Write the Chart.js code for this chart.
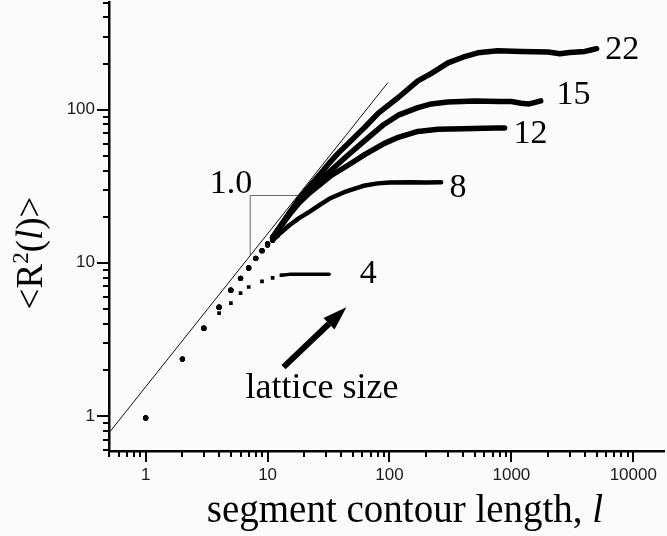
<!DOCTYPE html>
<html><head><meta charset="utf-8">
<script src="https://cdn.jsdelivr.net/npm/chart.js@4.4.0/dist/chart.umd.min.js"></script>
<style>html,body{margin:0;padding:0;background:#fbfbfb;overflow:hidden}</style>
</head><body>
<canvas id="c" width="667" height="536"></canvas>
<script>
// ---- axis ranges and tick labels ----
const xRange = [0.5, 18000];
const yRange = [0.59, 500];
const xTickLabels = ['1', '10', '100', '1000', '10000'];
const yTickLabels = ['1', '10', '100'];

// ---- data: contour length l and <R^2(l)> for each lattice size ----
const l4  = [1,2,3,4,5,6,7,9,11,13,15,18,22,27,32];
const r4  = [0.97,2.35,3.74,4.69,5.45,6.33,6.95,7.57,7.96,8.29,8.4,8.42,8.42,8.42,8.42];

const l8  = [1,2,3,4,5,6,7,8,9,10,11,12,15,18,22,27,33,43,63,80,100,150,200,265];
const r8  = [0.97,2.35,3.74,5.13,6.62,7.92,9.25,10.7,12.0,13.0,14.0,15.0,17.5,19.5,21.5,24,26.5,29,32,33,33.4,33.5,33.4,33.5];

const l12 = [1,2,3,4,5,6,7,8,9,10,11,12,15,18,22,27,33,45,63,90,118,171,250,400,600,750,880];
const r12 = [0.97,2.35,3.74,5.13,6.62,7.92,9.25,10.7,12.0,13.3,14.6,16,20.5,24.5,28.5,32.5,37,43,51,60,66,72,74.5,75,75.5,76,75.8];

const l15 = [1,2,3,4,5,6,7,8,9,10,11,12,15,18,22,27,33,45,63,90,118,171,220,300,500,800,1000,1200,1400,1600,1740];
const r15 = [0.97,2.35,3.74,5.13,6.62,7.92,9.25,10.7,12.0,13.3,14.6,16.2,21,25.5,30,35,40,50,63,80,92,103,109,112,114,113,113,110,109,112,114];

const l22 = [1,2,3,4,5,6,7,8,9,10,11,12,15,18,22,27,33,38,63,81,118,171,219,302,400,531,773,1200,2000,2500,3000,4000,4500,5000];
const r22 = [0.97,2.35,3.74,5.13,6.62,7.92,9.25,10.7,12.0,13.3,14.6,16.2,21,26,31.5,38,46,52,77,95,120,154,172,202,220,235,242,240,238,232,236,240,245,250];

// slope-1 reference line and slope triangle
const refLineL = [0.5, 97];
const refLineR = [0.775, 150];
const triL = [7.2, 7.2, 17.8];
const triR = [11.2, 27.5, 27.5];

// ---- annotation texts (data coordinates) ----
const labelTexts = [
  {text:'22', x:8110, y:215, align:'center', size:34},
  {text:'15', x:3230, y:109, align:'center', size:34},
  {text:'12', x:1438, y:61, align:'center', size:34},
  {text:'8',  x:364,  y:26.7, align:'center', size:34},
  {text:'4',  x:67,   y:7.35, align:'center', size:34},
  {text:'1.0',x:5.0,  y:28.4, align:'center', size:34},
  {text:'lattice size', x:6.6, y:1.31, align:'left', size:36}
];
const arrowFrom = {x:13.5, y:2.08};
const arrowTo   = {x:44.3, y:5.13};

// ---- helpers ----
const pts = (L, R) => L.map((v, i) => ({x: v, y: R[i]}));
function logTicks(min, max) {
  const out = [];
  for (let e = -1; e <= 5; e++) {
    for (let m = 1; m <= 9; m++) {
      const v = +(m * Math.pow(10, e)).toPrecision(6);
      if (v >= min - 1e-9 && v <= max + 1e-9) out.push(v);
    }
  }
  return out;
}
const xMajor = xTickLabels.map(Number);
const yMajor = yTickLabels.map(Number);

function series(L, R, dotMax, lineMin, width, style) {
  return {
    data: pts(L, R),
    showLine: true,
    borderColor: '#000',
    backgroundColor: '#000',
    borderWidth: width,
    pointStyle: style,
    pointRadius: c => (c.raw && c.raw.x <= dotMax) ? 2.6 : 0,
    pointBorderWidth: 0,
    pointHoverRadius: 0,
    segment: { borderColor: c => c.p0.parsed.x >= lineMin ? '#000' : 'rgba(0,0,0,0)' },
    tension: 0,
    borderCapStyle: 'round',
    borderJoinStyle: 'round'
  };
}

const serif = '"Liberation Serif", "Times New Roman", serif';

const decorPlugin = {
  id: 'decor',
  afterDatasetsDraw(chart) {
    const {ctx, scales: {x, y}} = chart;
    ctx.save();
    ctx.fillStyle = '#000';
    ctx.textBaseline = 'alphabetic';
    labelTexts.forEach(t => {
      ctx.textAlign = t.align;
      ctx.font = t.size + 'px ' + serif;
      ctx.fillText(t.text, x.getPixelForValue(t.x), y.getPixelForValue(t.y));
    });
    // arrow
    const x0 = x.getPixelForValue(arrowFrom.x), y0 = y.getPixelForValue(arrowFrom.y);
    const x1 = x.getPixelForValue(arrowTo.x), y1 = y.getPixelForValue(arrowTo.y);
    const ang = Math.atan2(y1 - y0, x1 - x0);
    const headLen = 24, headW = 8;
    const bx = x1 - headLen * Math.cos(ang), by = y1 - headLen * Math.sin(ang);
    ctx.strokeStyle = '#000';
    ctx.lineWidth = 6;
    ctx.lineCap = 'butt';
    ctx.beginPath(); ctx.moveTo(x0, y0); ctx.lineTo(bx, by); ctx.stroke();
    ctx.beginPath();
    ctx.moveTo(x1, y1);
    ctx.lineTo(bx + headW * Math.sin(ang), by - headW * Math.cos(ang));
    ctx.lineTo(bx - headW * Math.sin(ang), by + headW * Math.cos(ang));
    ctx.closePath(); ctx.fill();
    ctx.restore();
  },
  afterDraw(chart) {
    const {ctx, scales: {x, y}, chartArea: a} = chart;
    ctx.save();
    ctx.strokeStyle = '#000';
    ctx.lineWidth = 2;
    x.ticks.forEach(t => {
      const px = Math.round(x.getPixelForValue(t.value));
      const len = xMajor.includes(t.value) ? 11 : 6;
      ctx.beginPath(); ctx.moveTo(px, a.bottom); ctx.lineTo(px, a.bottom + len); ctx.stroke();
    });
    y.ticks.forEach(t => {
      const py = Math.round(y.getPixelForValue(t.value));
      const len = yMajor.includes(t.value) ? 12 : 6;
      ctx.beginPath(); ctx.moveTo(a.left, py); ctx.lineTo(a.left - len, py); ctx.stroke();
    });
    // axis titles
    ctx.fillStyle = '#000';
    ctx.textBaseline = 'alphabetic';
    const xs = 39;
    const xParts = [
      {t: 'segment contour length, ', f: xs + 'px ' + serif},
      {t: 'l', f: 'italic ' + xs + 'px ' + serif}
    ];
    let w = 0;
    xParts.forEach(p => { ctx.font = p.f; p.w = ctx.measureText(p.t).width; w += p.w; });
    let cx = 405 - w / 2;
    xParts.forEach(p => { ctx.font = p.f; ctx.textAlign = 'left'; ctx.fillText(p.t, cx, 522); cx += p.w; });

    const ys = 37;
    ctx.translate(42, 253);
    ctx.rotate(-Math.PI / 2);
    const yParts = [
      {t: '<R', f: ys + 'px ' + serif, dy: 0},
      {t: '2', f: '23px ' + serif, dy: -14},
      {t: '(', f: ys + 'px ' + serif, dy: 0},
      {t: 'l', f: 'italic ' + ys + 'px ' + serif, dy: 0},
      {t: ')>', f: ys + 'px ' + serif, dy: 0}
    ];
    w = 0;
    yParts.forEach(p => { ctx.font = p.f; p.w = ctx.measureText(p.t).width; w += p.w; });
    cx = -w / 2;
    yParts.forEach(p => { ctx.font = p.f; ctx.textAlign = 'left'; ctx.fillText(p.t, cx, p.dy); cx += p.w; });
    ctx.restore();
  }
};

const tickFont = {family: '"Liberation Sans", Arial, sans-serif', size: 17};

new Chart(document.getElementById('c'), {
  type: 'scatter',
  data: {
    datasets: [
      {data: pts(refLineL, refLineR), showLine: true, borderColor: '#111', borderWidth: 1, pointRadius: 0, pointHoverRadius: 0},
      {data: pts(triL, triR), showLine: true, borderColor: '#666', borderWidth: 1, pointRadius: 0, pointHoverRadius: 0},
      series(l4, r4, 13, 13, 3.5, 'rect'),
      series(l8, r8, 12, 11, 4.5, 'circle'),
      series(l12, r12, 12, 11, 5.5, 'circle'),
      series(l15, r15, 12, 11, 5.5, 'circle'),
      series(l22, r22, 12, 11, 5.5, 'circle')
    ]
  },
  options: {
    responsive: false,
    animation: false,
    devicePixelRatio: 1,
    layout: {padding: {top: 2, right: 0, left: 0, bottom: 0}},
    plugins: {legend: {display: false}, tooltip: {enabled: false}, title: {display: false}},
    events: [],
    scales: {
      x: {
        type: 'logarithmic', min: xRange[0], max: xRange[1],
        afterBuildTicks: s => { s.ticks = logTicks(xRange[0], xRange[1]).map(v => ({value: v})); },
        afterFit: s => { s.height = 85; s.paddingLeft = 0; s.paddingRight = 0; },
        ticks: {autoSkip: false, maxRotation: 0, padding: 3, color: '#1a1a1a', font: tickFont,
          callback: v => xMajor.includes(v) ? xTickLabels[xMajor.indexOf(v)] : ''},
        grid: {display: true, drawOnChartArea: false, drawTicks: true, tickLength: 11, color: 'rgba(0,0,0,0)'},
        border: {display: true, color: '#000', width: 2.5}
      },
      y: {
        type: 'logarithmic', min: yRange[0], max: yRange[1],
        afterBuildTicks: s => { s.ticks = logTicks(yRange[0], yRange[1]).map(v => ({value: v})); },
        afterFit: s => { s.width = 109; s.paddingTop = 0; s.paddingBottom = 0; },
        ticks: {autoSkip: false, padding: 2, color: '#1a1a1a', font: tickFont,
          callback: v => yMajor.includes(v) ? yTickLabels[yMajor.indexOf(v)] : ''},
        grid: {display: true, drawOnChartArea: false, drawTicks: true, tickLength: 12, color: 'rgba(0,0,0,0)'},
        border: {display: true, color: '#000', width: 2.5}
      }
    }
  },
  plugins: [decorPlugin]
});
</script>
</body></html>
